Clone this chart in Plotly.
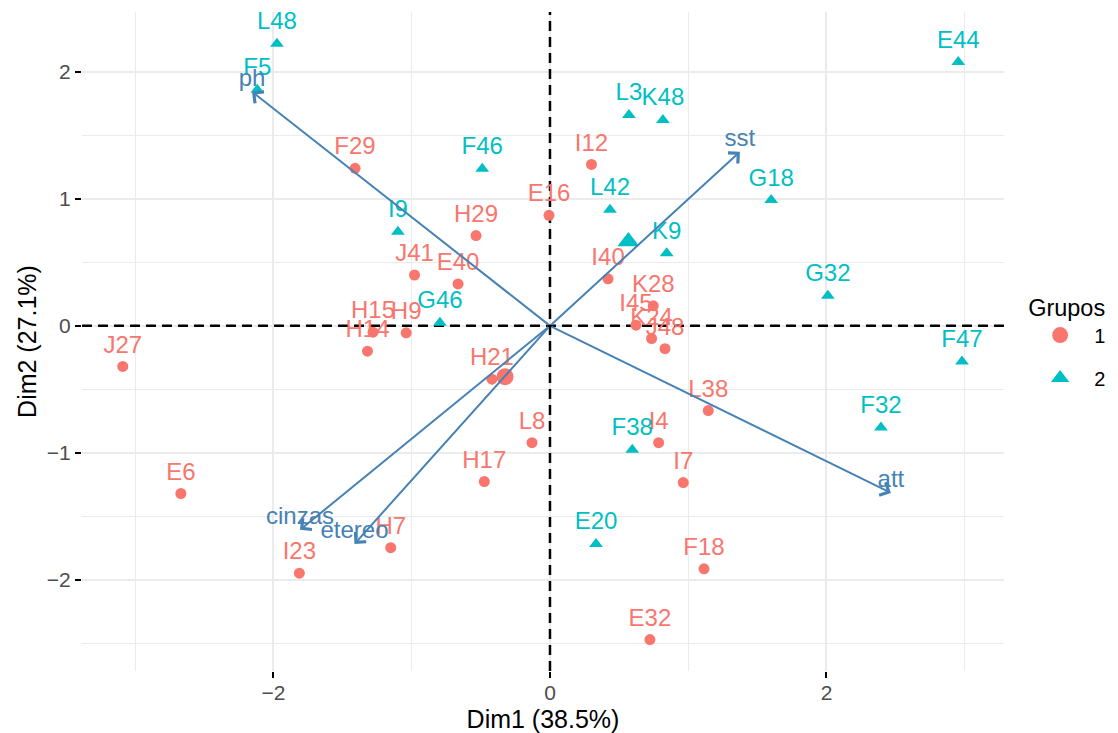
import plotly.graph_objects as go

# ---------------- data ----------------
names1 = ["J27", "E6", "F29", "H29", "I12", "E16", "J41", "E40", "I40", "H15", "H14", "H9", "H21",
          "L8", "H17", "I4", "I7", "L38", "K28", "I45", "K24", "J48", "F18", "E32", "I23", "H7"]
x1 = [-3.09, -2.67, -1.41, -0.535, 0.30, -0.007, -0.98, -0.665, 0.42, -1.28, -1.32, -1.04, -0.42,
      -0.13, -0.475, 0.786, 0.964, 1.145, 0.747, 0.622, 0.735, 0.832, 1.114, 0.723, -1.813, -1.152]
y1 = [-0.32, -1.32, 1.24, 0.71, 1.27, 0.87, 0.40, 0.33, 0.37, -0.05, -0.20, -0.055, -0.42,
      -0.92, -1.226, -0.92, -1.234, -0.667, 0.157, 0.005, -0.10, -0.18, -1.913, -2.47, -1.947, -1.746]

names2 = ["L48", "F5", "F46", "I9", "G46", "L3", "K48", "L42", "K9", "G18", "E44", "G32", "F47",
          "F32", "F38", "E20"]
x2 = [-1.975, -2.117, -0.49, -1.10, -0.796, 0.571, 0.817, 0.434, 0.844, 1.60, 2.953, 2.01, 2.98,
      2.394, 0.595, 0.333]
y2 = [2.22, 1.858, 1.236, 0.74, 0.025, 1.66, 1.62, 0.913, 0.572, 0.99, 2.076, 0.236, -0.28,
      -0.80, -0.976, -1.717]

group_names = ["1", "2"]
mean_x = [-0.325, 0.567]
mean_y = [-0.40, 0.664]

var_names = ["ph", "sst", "att", "cinzas", "etereo"]
var_x = [-2.155, 1.374, 2.466, -1.808, -1.414]
var_y = [1.843, 1.37, -1.315, -1.606, -1.717]

x_ticks = [-2, 0, 2]
y_ticks = [-2, -1, 0, 1, 2]
x_minor = [-3, -1, 1, 3]
y_minor = [-2.5, -1.5, -0.5, 0.5, 1.5]

# ---------------- style ----------------
RED = "#F8766D"
TEAL = "#00BFC4"
BLUE = "#4682B4"
FONT = "Liberation Sans, Arial, sans-serif"

fig = go.Figure()

# dashed reference lines, drawn as line traces so they sit under the points
fig.add_trace(go.Scatter(x=[-3.385, 3.284], y=[0, 0], mode="lines", hoverinfo="skip",
                         line=dict(color="black", width=2.5, dash="10px,6px"), showlegend=False))
fig.add_trace(go.Scatter(x=[0, 0], y=[-2.717, 2.47], mode="lines", hoverinfo="skip",
                         line=dict(color="black", width=2.5, dash="10px,6px"), showlegend=False))

# individuals
fig.add_trace(go.Scatter(x=x1, y=y1, mode="markers+text", text=names1, textposition="top center",
                         marker=dict(symbol="circle", size=11, color=RED),
                         textfont=dict(size=24, color=RED, family=FONT), showlegend=False))
fig.add_trace(go.Scatter(x=x2, y=y2, mode="markers+text", text=names2, textposition="top center",
                         marker=dict(symbol="triangle-up", size=12, color=TEAL),
                         textfont=dict(size=24, color=TEAL, family=FONT), showlegend=False))

# group means
fig.add_trace(go.Scatter(x=[mean_x[0]], y=[mean_y[0]], mode="markers",
                         marker=dict(symbol="circle", size=17, color=RED), showlegend=False))
fig.add_trace(go.Scatter(x=[mean_x[1]], y=[mean_y[1]], mode="markers",
                         marker=dict(symbol="triangle-up", size=19, color=TEAL), showlegend=False))

# variable labels
fig.add_trace(go.Scatter(x=var_x, y=var_y, mode="text", text=var_names, textposition="top center",
                         textfont=dict(size=24, color=BLUE, family=FONT), showlegend=False))

# legend entries
fig.add_trace(go.Scatter(x=[None], y=[None], mode="markers", name=group_names[0], legendgroup="g1",
                         marker=dict(symbol="circle", size=16, color=RED)))
fig.add_trace(go.Scatter(x=[None], y=[None], mode="markers", name=group_names[1], legendgroup="g2",
                         marker=dict(symbol="triangle-up", size=19, color=TEAL)))

# arrows for variables
for vx, vy in zip(var_x, var_y):
    fig.add_annotation(x=vx, y=vy, ax=0, ay=0, xref="x", yref="y", axref="x", ayref="y",
                       text="", showarrow=True, arrowhead=4, arrowsize=1.4, arrowwidth=2,
                       arrowcolor=BLUE, standoff=0, startstandoff=0)

axis_common = dict(
    showgrid=True, gridcolor="#EBEBEB", gridwidth=1.6, zeroline=False, showline=False,
    ticks="outside", ticklen=6, tickwidth=2, tickcolor="black", automargin=False,
    tickfont=dict(size=21, color="#4D4D4D", family=FONT),
)

# page body has an 8px margin: figure is sized/offset to compensate
fig.update_layout(
    width=1110, height=725,
    margin=dict(l=74, r=114, t=4, b=62),
    paper_bgcolor="white", plot_bgcolor="white",
    font=dict(family=FONT),
    xaxis=dict(range=[-3.385, 3.284], tickmode="array", tickvals=x_ticks, ticklabelstandoff=-3,
               minor=dict(tickmode="array", tickvals=x_minor, showgrid=True, gridcolor="#EBEBEB",
                          gridwidth=0.9, ticks=""),
               title=dict(text="Dim1 (38.5%)", font=dict(size=25, color="black", family=FONT), standoff=8),
               **axis_common),
    yaxis=dict(range=[-2.717, 2.47], tickmode="array", tickvals=y_ticks,
               minor=dict(tickmode="array", tickvals=y_minor, showgrid=True, gridcolor="#EBEBEB",
                          gridwidth=0.9, ticks=""),
               title=dict(text="Dim2 (27.1%)", font=dict(size=25, color="black", family=FONT), standoff=3),
               **axis_common),
    legend=dict(title=dict(text="Grupos", font=dict(size=23.5, color="black", family=FONT)),
                font=dict(size=20, color="black", family=FONT),
                x=1.024, xanchor="left", y=0.50, yanchor="middle", itemwidth=58,
                tracegroupgap=14, bgcolor="rgba(0,0,0,0)"),
)

fig.write_html("out.html")
